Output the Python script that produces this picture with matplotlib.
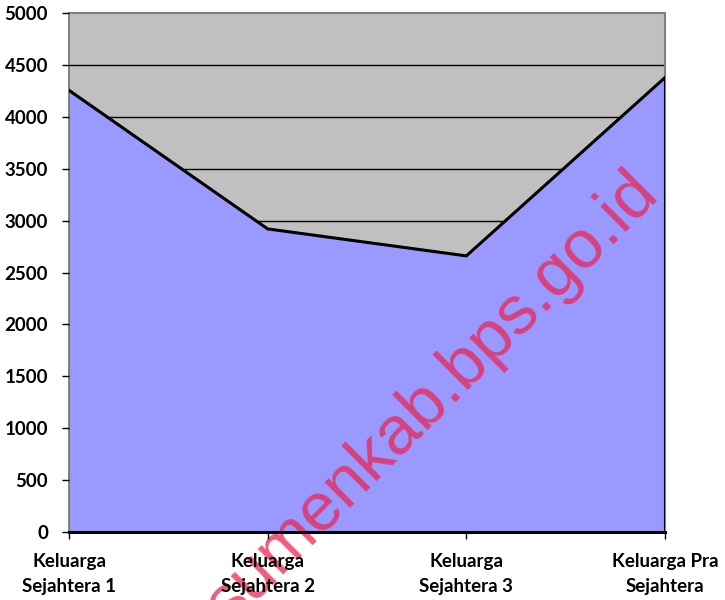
import numpy as np
import matplotlib.pyplot as plt

categories = ['Keluarga\nSejahtera 1', 'Keluarga\nSejahtera 2',
              'Keluarga\nSejahtera 3', 'Keluarga Pra\nSejahtera']
jumlah = [4255, 2920, 2660, 4378]
yticks = [0, 500, 1000, 1500, 2000, 2500, 3000, 3500, 4000, 4500, 5000]

if __name__ == '__main__':
    fig = plt.figure(figsize=(7.25, 6), dpi=100)
    ax = fig.add_axes([69 / 725, 1 - 532 / 600, 596 / 725, 519 / 600])
    ax.set_facecolor('#C0C0C0')

    # gridlines behind the area (drawn by hand so they stay under the fill)
    for v in yticks[1:-1]:
        ax.axhline(v, color='black', lw=1, zorder=1)

    x = np.arange(len(categories))
    ax.fill_between(x, 0, jumlah, color='#9999FF', zorder=2)
    ax.plot(x, jumlah, color='black', lw=2.2, zorder=3, solid_joinstyle='miter')
    ax.plot([x[-1], x[-1]], [0, jumlah[-1]], color='black', lw=2.2, zorder=3)

    ax.set_xlim(0, len(categories) - 1)
    ax.set_ylim(0, 5000)
    ax.set_yticks(yticks)
    ax.set_xticks(x)
    fam = 'Lato'
    ax.set_xticklabels(categories, fontsize=13.5, fontweight='bold',
                       family=fam, linespacing=1.55)
    for lab in ax.get_yticklabels():
        lab.set_fontsize(13.5)
        lab.set_fontweight('bold')
        lab.set_family(fam)
    ax.tick_params(axis='both', direction='out', length=5, color='black', width=1)
    ax.tick_params(axis='x', pad=10)
    ax.tick_params(axis='y', pad=10)

    for s in ['top', 'right']:
        ax.spines[s].set_color('#808080')
        ax.spines[s].set_linewidth(1.5)
    ax.spines['left'].set_color('#707070')
    ax.spines['left'].set_linewidth(1.2)
    ax.spines['bottom'].set_color('black')
    ax.spines['bottom'].set_linewidth(2.2)
    ax.spines['bottom'].set_zorder(7)
    ax.xaxis.set_zorder(6)
    ax.yaxis.set_zorder(6)

    # watermark, under the tick labels
    ax.text(445 / 725, 1 - 412 / 600, 'sumenkab.bps.go.id', fontsize=49,
            family='Liberation Sans', color='#EC2452', alpha=0.75,
            rotation=45, rotation_mode='anchor', ha='center', va='baseline',
            transform=fig.transFigure, clip_on=False, zorder=5)

    fig.savefig('out.png', dpi=100)
